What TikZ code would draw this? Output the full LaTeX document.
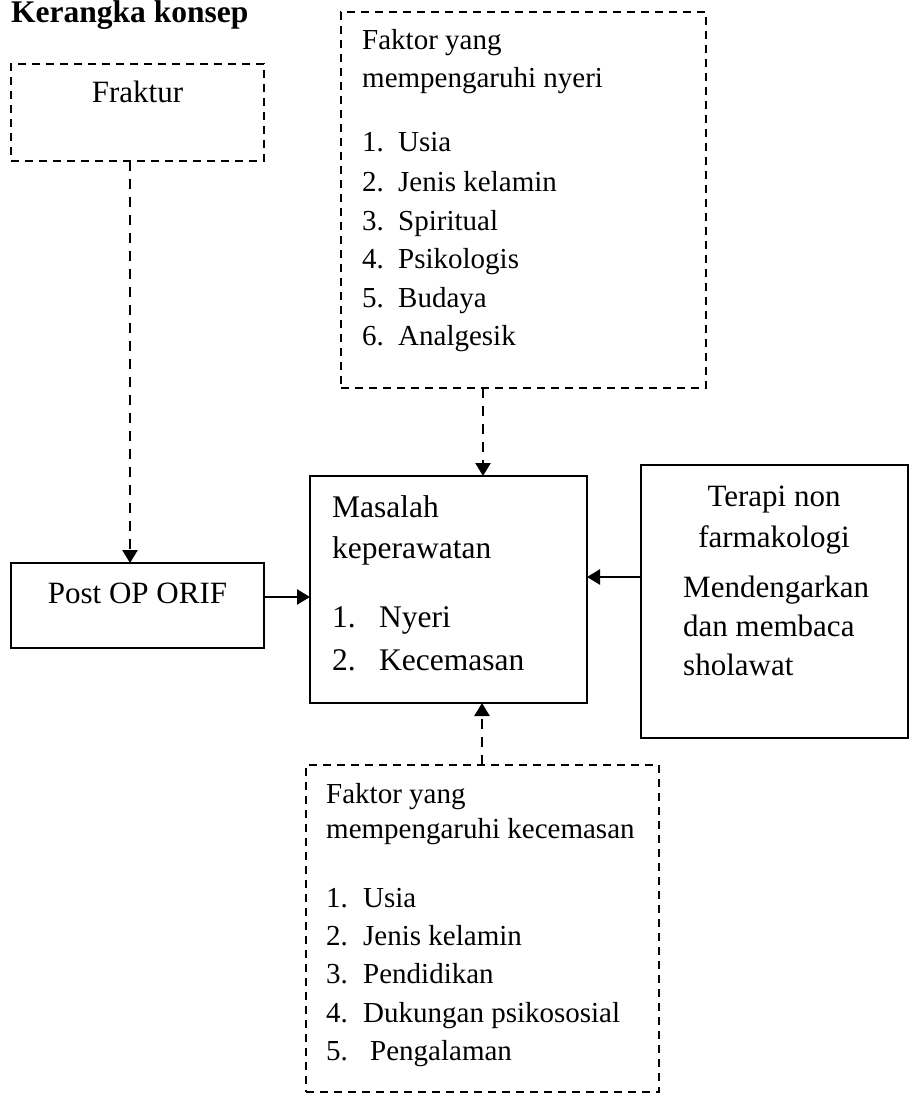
\documentclass[tikz,border=0pt]{standalone}
\usepackage{fontspec}
\setmainfont{Liberation Serif}
\usetikzlibrary{arrows.meta}
\tikzset{
  dbox/.style={draw, line width=1.6pt, dash pattern=on 8pt off 6pt, inner sep=0pt, outer sep=0pt},
  sbox/.style={draw, line width=1.6pt, inner sep=0pt, outer sep=0pt},
  dconn/.style={line width=2.4pt, dash pattern=on 10pt off 8pt, -{Triangle[width=15pt,length=13pt]}},
  sconn/.style={line width=2.4pt, -{Triangle[width=15pt,length=13pt]}},
  lt/.style={anchor=base west, inner sep=0pt, font=\fontsize{29}{35}\selectfont},
  bt/.style={anchor=base west, inner sep=0pt, font=\fontsize{31}{37}\selectfont},
  ct/.style={anchor=base, inner sep=0pt, font=\fontsize{31}{37}\selectfont},
  mt/.style={anchor=base west, inner sep=0pt, font=\fontsize{31.5}{38}\selectfont}
}
\begin{document}
\begin{tikzpicture}[x=1pt,y=-1pt]
\useasboundingbox (0,0) rectangle (911,1094);
% title
\node[anchor=base west, inner sep=0pt, font=\fontsize{31.5}{38}\selectfont\bfseries] (title) at (11,23) {Kerangka konsep};
% boxes
\node[dbox, minimum width=253pt, minimum height=97pt] (fraktur) at (137.5,112.5) {};
\node[dbox, minimum width=365pt, minimum height=376pt] (nyeri) at (523.5,200) {};
\node[sbox, minimum width=253pt, minimum height=85pt] (post) at (137.5,605.5) {};
\node[sbox, minimum width=277pt, minimum height=227pt] (masalah) at (448.5,589.5) {};
\node[sbox, minimum width=267pt, minimum height=273pt] (terapi) at (774.5,601.5) {};
\node[dbox, minimum width=353pt, minimum height=327pt] (cemas) at (482.5,928.5) {};
% texts
\node[ct] (tfraktur) at (137.5,103) {Fraktur};
\node[ct] (tpost) at (137.5,603) {Post OP ORIF};
\node[lt] (n0) at (362,50) {Faktor yang};
\node[lt] (n00) at (362,88) {mempengaruhi nyeri};
\node[lt] (n1a) at (362,152) {1.}; \node[lt] (n1) at (398,152) {Usia};
\node[lt] (n2a) at (362,191) {2.}; \node[lt] (n2) at (398,191) {Jenis kelamin};
\node[lt] (n3a) at (362,230) {3.}; \node[lt] (n3) at (398,230) {Spiritual};
\node[lt] (n4a) at (362,268) {4.}; \node[lt] (n4) at (398,268) {Psikologis};
\node[lt] (n5a) at (362,307) {5.}; \node[lt] (n5) at (398,307) {Budaya};
\node[lt] (n6a) at (362,345) {6.}; \node[lt] (n6) at (398,345) {Analgesik};
\node[mt] (m0) at (332,517) {Masalah};
\node[mt] (m00) at (332,558) {keperawatan};
\node[mt] (m1a) at (332,627) {1.}; \node[mt] (m1) at (379,627) {Nyeri};
\node[mt] (m2a) at (332,670) {2.}; \node[mt] (m2) at (379,670) {Kecemasan};
\node[ct] (t0) at (774,506) {Terapi non};
\node[ct] (t00) at (774,547) {farmakologi};
\node[bt] (t1) at (683,597) {Mendengarkan};
\node[bt] (t2) at (683,636) {dan membaca};
\node[bt] (t3) at (683,675) {sholawat};
\node[lt] (c0) at (326,803) {Faktor yang};
\node[lt] (c00) at (326,838) {mempengaruhi kecemasan};
\node[lt] (c1a) at (326,907) {1.}; \node[lt] (c1) at (363,907) {Usia};
\node[lt] (c2a) at (326,945) {2.}; \node[lt] (c2) at (363,945) {Jenis kelamin};
\node[lt] (c3a) at (326,983) {3.}; \node[lt] (c3) at (363,983) {Pendidikan};
\node[lt] (c4a) at (326,1022) {4.}; \node[lt] (c4) at (363,1022) {Dukungan psikososial};
\node[lt] (c5a) at (326,1060) {5.}; \node[lt] (c5) at (370,1060) {Pengalaman};
% connector guides
\coordinate (fx) at (130,0);
\coordinate (nx) at (483,0);
\coordinate (cx) at (482,0);
\coordinate (ay) at (0,597);
\coordinate (ty) at (0,577);
% connectors
\draw[dconn] (fraktur.south -| fx) -- (post.north -| fx);
\draw[sconn] (post.east |- ay) -- (masalah.west |- ay);
\draw[dconn] (nyeri.south -| nx) -- (masalah.north -| nx);
\draw[sconn] (terapi.west |- ty) -- (masalah.east |- ty);
\draw[dconn] (cemas.north -| cx) -- (masalah.south -| cx);
\end{tikzpicture}
\end{document}
